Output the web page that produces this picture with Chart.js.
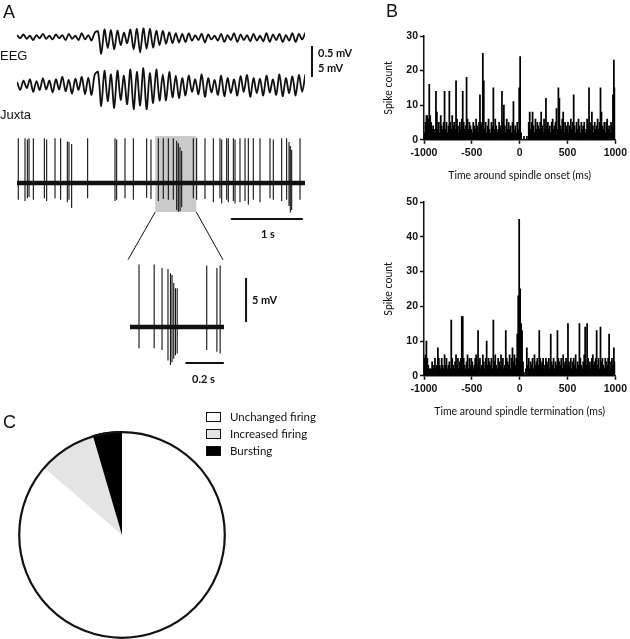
<!DOCTYPE html>
<html>
<head>
<meta charset="utf-8">
<script src="https://cdn.jsdelivr.net/npm/chart.js@4.4.1/dist/chart.umd.min.js"></script>
<style>
  html, body { margin: 0; padding: 0; background: #fff; }
  body { width: 630px; height: 639px; position: relative; overflow: hidden; font-family: 'Liberation Sans', Arial, sans-serif; color: #111; }
  canvas { position: absolute; }
  .lbl { position: absolute; white-space: nowrap; line-height: 1; }
  .panel { font-size: 18px; }
  .trace { font-size: 13px; }
  .bar-lbl { font-family: Lato, 'Open Sans', sans-serif; font-weight: 700; font-size: 11px; }
  #legend { position: absolute; left: 206px; top: 408px; font-family: Lato, 'Open Sans', sans-serif; font-size: 11.5px; }
  #legend div { display: flex; align-items: center; height: 17px; }
  #legend .box { width: 13px; height: 8px; border: 1.4px solid #111; margin-right: 9px; }
</style>
</head>
<body>
<canvas id="traces" width="330" height="265" style="left:0;top:0"></canvas>
<canvas id="inset" width="170" height="135" style="left:120px;top:255px"></canvas>
<canvas id="onset" width="300" height="190" style="left:330px;top:0"></canvas>
<canvas id="term" width="300" height="240" style="left:330px;top:190px"></canvas>
<canvas id="pie" width="240" height="249" style="left:0;top:390px"></canvas>

<div class="lbl panel" style="left:3px;top:3px">A</div>
<div class="lbl panel" style="left:386px;top:2px">B</div>
<div class="lbl panel" style="left:3px;top:413px">C</div>
<div class="lbl trace" style="left:0;top:49px">EEG</div>
<div class="lbl trace" style="left:0;top:108px">Juxta</div>
<div class="lbl bar-lbl" style="left:318px;top:47px">0.5 mV</div>
<div class="lbl bar-lbl" style="left:318px;top:62px">5 mV</div>
<div class="lbl bar-lbl" style="left:261px;top:228px">1 s</div>
<div class="lbl bar-lbl" style="left:252px;top:294px">5 mV</div>
<div class="lbl bar-lbl" style="left:192px;top:373px">0.2 s</div>
<div id="legend"></div>

<script>
// ---------------- data ----------------
// A: EEG (mV) and juxta EEG (mV), sampled every eegStep s
const traceDuration = 4.0;
const eegStep = 0.045;
const eegValues = [
  0.03,-0.02,0.04,-0.03,0.02,-0.05,0.03,-0.02,0.05,-0.03,0.02,-0.04,0.04,-0.02,0.03,-0.05,0.05,-0.03,0.02,-0.05,0.06,-0.04,0.03,-0.06,0.07,
  0.09,-0.27,0.12,-0.18,0.11,-0.2,0.1,-0.13,0.07,-0.1,0.12,-0.2,0.13,-0.25,0.14,-0.19,0.13,-0.17,0.1,-0.13,0.1,-0.11,0.08,-0.1,0.06,-0.09,
  0.05,-0.08,0.06,-0.06,0.03,-0.05,0.05,-0.09,0.04,-0.04,0.02,-0.06,0.05,-0.08,0.03,-0.05,0.06,-0.08,0.04,-0.05,0.03,-0.07,0.05,-0.06,0.02,-0.07,0.06,-0.08,0.04,-0.05,0.05,-0.08,0.03,-0.06,0.06,-0.08,0.05,-0.04,0.07
];
const juxtaEegValues = [
  0.5,-0.8,0.7,-0.5,0.9,-1.1,0.6,-0.8,1.1,-0.7,0.7,-1.2,0.9,-0.7,1.3,-1.0,0.8,-1.4,1.0,-0.8,1.3,-1.5,1.2,-1.6,1.7,
  2.1,-3.4,2.3,-2.6,1.7,-3.7,2.3,-2.4,1.5,-3.1,2.5,-3.9,2.1,-3.3,2.7,-3.9,1.9,-2.9,2.5,-2.5,1.7,-2.5,2.1,-2.0,1.5,-2.1,
  1.1,-1.7,1.5,-1.1,0.9,-1.5,1.7,-1.9,1.1,-1.2,0.8,-1.6,1.5,-1.8,1.1,-1.3,0.9,-1.7,1.4,-1.1,1.6,-1.9,1.1,-1.3,1.0,-1.7,1.5,-1.2,0.9,-1.6,1.7,-1.8,1.1,-1.3,1.4,-1.7,1.6,-1.1,1.7
];

// A: juxtacellular spikes (s, mV)
const spikeTimes = [0.018,0.111,0.144,0.167,0.227,0.380,0.412,0.528,0.606,0.699,0.722,0.759,0.981,1.361,1.384,1.500,1.616,1.801,1.861,1.963,
  2.032,2.102,2.171,2.218,2.241,2.264,2.287,2.449,2.495,2.611,2.727,2.819,2.843,2.912,2.935,3.005,3.028,3.097,3.167,3.213,
  3.282,3.375,3.514,3.560,3.676,3.745,3.778,3.796,3.815,3.931];
const spikeTops = [7,7,6.8,7,7,7,6.8,7,7,6.5,6.4,6.1,7,7,6.8,7,7,7,6.8,7,
  7,7,7,6.6,6.2,5.6,5.0,7,7,7,7,7,6.8,7,7,7,6.8,7,7,7,
  7,7,7,6.8,7,7,6.4,5.8,5.2,7];
const spikeBottoms = [-2.6,-2.8,-2.4,-2.2,-2.6,-2.4,-2.8,-2.4,-2.6,-3.0,-2.6,-3.9,-2.4,-2.8,-2.6,-2.4,-2.6,-2.3,-2.5,-2.8,
  -2.5,-2.6,-2.6,-4.2,-4.5,-4.4,-3.8,-2.4,-2.6,-2.5,-3.0,-2.4,-3.2,-2.6,-3.0,-2.8,-3.2,-3.0,-2.8,-3.4,
  -2.6,-3.0,-2.4,-2.6,-2.8,-2.6,-3.6,-4.6,-4.2,-2.6];
const shadeWindow = [1.92, 2.49];   // s
const shadeRange = [-4.53, 7.34];   // mV

// A inset: expanded spikes (s, mV)
const insetDuration = 0.49;
const insetSpikeTimes = [0.047,0.126,0.167,0.198,0.211,0.219,0.228,0.237,0.246,0.400,0.453,0.470];
const insetSpikeTops = [7.1,7.1,6.7,6.6,6.1,5.9,5.0,4.4,4.4,7.0,6.7,7.0];
const insetSpikeBottoms = [-2.4,-2.4,-2.6,-3.8,-4.3,-4.0,-3.6,-3.2,-3.0,-2.6,-2.8,-3.0];

// B: peri-event histograms, 10 ms bins from -1000 to 1000 ms
const binStart = -1000;
const binWidth = 10;
const timeTicks = [-1000, -500, 0, 500, 1000];
const onsetCounts = [
  2,5,7,7,6,16,7,5,3,4,
  3,2,14,8,3,5,2,7,4,3,
  5,14,3,5,2,4,14,5,3,7,
  4,5,3,17,6,4,2,5,3,6,
  14,5,3,4,18,6,3,5,4,3,
  2,5,4,3,6,4,2,5,13,5,
  4,25,17,3,5,2,4,6,3,2,
  5,4,15,3,6,4,2,3,5,4,
  3,14,5,10,4,2,6,3,5,3,
  4,2,5,11,3,4,2,5,3,15,
  24,2,0,0,1,0,0,1,0,5,
  8,3,5,8,4,2,6,3,5,4,
  3,5,8,4,2,6,3,12,4,5,
  3,4,2,5,6,3,4,5,9,3,
  15,12,4,3,6,8,2,5,4,3,
  5,2,4,6,3,5,13,4,2,5,
  3,6,4,2,5,3,4,5,2,3,
  6,4,15,5,3,8,4,2,5,3,
  4,6,3,5,15,8,4,3,5,2,
  5,6,3,4,2,5,4,13,23,15
];
const terminationCounts = [
  5,6,10,5,3,2,2,2,4,2,
  3,5,2,3,8,5,3,2,5,3,
  2,6,3,5,2,3,4,2,16,5,
  3,2,4,6,3,5,2,4,5,17,
  17,5,3,2,4,6,2,5,3,5,
  4,2,3,5,6,3,13,4,5,2,
  3,6,4,2,5,10,3,5,4,3,
  5,2,16,4,6,3,2,5,4,3,
  6,4,5,2,3,13,5,4,3,6,
  2,5,8,4,6,3,5,12,23,45,
  25,15,13,4,1,0,2,8,3,5,
  2,4,3,5,2,6,3,4,5,3,
  13,5,3,4,5,2,3,5,4,3,
  5,2,12,4,3,5,2,4,3,13,
  5,4,3,5,2,6,3,4,5,3,
  15,4,3,5,2,4,5,3,6,2,
  4,3,15,5,3,2,4,6,14,3,
  15,5,3,4,2,5,6,3,4,5,
  13,3,5,2,14,4,5,3,2,5,
  4,3,5,12,2,4,5,3,8,4
];

// C: response types (cells)
const pieLabels = ['Unchanged firing', 'Increased firing', 'Bursting'];
const pieCounts = [19, 2, 1];
const pieColors = ['#ffffff', '#e4e4e4', '#000000'];

// ---------------- helpers ----------------
const sansFont = "'Liberation Sans', Arial, sans-serif";
const calFont = "Lato, 'Open Sans', sans-serif";

function series(values, step) { return values.map((v, i) => ({ x: i * step, y: v })); }
function spikeSegments(times, tops, bottoms) {
  return times.flatMap((t, i) => [{ x: t, y: bottoms[i] }, { x: t, y: tops[i] }, { x: t, y: null }]);
}
function lineDs(data, axis, width, color) {
  return { data, yAxisID: axis, borderColor: color || '#111', borderWidth: width, pointRadius: 0, tension: 0, spanGaps: false };
}
function hline(ctx, x0, x1, y, w) { ctx.lineWidth = w; ctx.beginPath(); ctx.moveTo(x0, y); ctx.lineTo(x1, y); ctx.stroke(); }
function vline(ctx, x, y0, y1, w) { ctx.lineWidth = w; ctx.beginPath(); ctx.moveTo(x, y0); ctx.lineTo(x, y1); ctx.stroke(); }

const baseOpts = { responsive: false, animation: false, plugins: { legend: { display: false }, tooltip: { enabled: false } } };

// ---------------- A: traces ----------------
const traceMarks = {
  id: 'traceMarks',
  beforeDatasetsDraw(chart) {
    const { ctx, scales: { x, yS } } = chart;
    const l = x.getPixelForValue(shadeWindow[0]), r = x.getPixelForValue(shadeWindow[1]);
    const t = yS.getPixelForValue(shadeRange[1]), b = yS.getPixelForValue(shadeRange[0]);
    ctx.save(); ctx.fillStyle = '#cacaca'; ctx.fillRect(l, t, r - l, b - t); ctx.restore();
  },
  afterDraw(chart) {
    const { ctx, scales: { x, yE, yS } } = chart;
    ctx.save(); ctx.strokeStyle = '#111';
    // lines down to the inset
    const by = yS.getPixelForValue(shadeRange[0]), iy = yS.getPixelForValue(-12.0);
    ctx.lineWidth = 1;
    ctx.beginPath();
    ctx.moveTo(x.getPixelForValue(shadeWindow[0]), by); ctx.lineTo(x.getPixelForValue(1.542), iy);
    ctx.moveTo(x.getPixelForValue(shadeWindow[1]), by); ctx.lineTo(x.getPixelForValue(2.861), iy);
    ctx.stroke();
    // 1 s bar, 0.5 mV bar
    hline(ctx, x.getPixelForValue(2.97), x.getPixelForValue(3.97), yS.getPixelForValue(-5.63), 2);
    vline(ctx, x.getPixelForValue(4.097), yE.getPixelForValue(-0.145), yE.getPixelForValue(-0.645), 2);
    ctx.restore();
  }
};

new Chart(document.getElementById('traces'), {
  type: 'line',
  data: { datasets: [
    { ...lineDs(series(eegValues, eegStep), 'yE', 1.8), tension: 0.3 },
    { ...lineDs(series(juxtaEegValues, eegStep), 'yJ', 1.8), tension: 0.3 },
    lineDs(spikeSegments(spikeTimes, spikeTops, spikeBottoms), 'yS', 1.1, '#111'),
    lineDs([{ x: 0, y: 0 }, { x: traceDuration, y: 0 }], 'yS', 4.5)
  ] },
  options: {
    ...baseOpts,
    layout: { padding: { left: 17, right: 25, top: 20, bottom: 50 } },
    scales: {
      x: { type: 'linear', min: 0, max: traceDuration, display: false },
      yE: { min: -2.871, max: 0.274, display: false },
      yJ: { min: -20.97, max: 10.48, display: false },
      yS: { min: -5.0, max: 25.47, display: false }
    }
  },
  plugins: [traceMarks]
});

// ---------------- A: inset ----------------
const insetMarks = {
  id: 'insetMarks',
  afterDraw(chart) {
    const { ctx, scales: { x, yS } } = chart;
    ctx.save(); ctx.strokeStyle = '#111';
    hline(ctx, x.getPixelForValue(0.289), x.getPixelForValue(0.489), yS.getPixelForValue(-4.09), 2);
    vline(ctx, x.getPixelForValue(0.605), yS.getPixelForValue(0.57), yS.getPixelForValue(5.57), 2);
    ctx.restore();
  }
};

new Chart(document.getElementById('inset'), {
  type: 'line',
  data: { datasets: [
    lineDs(spikeSegments(insetSpikeTimes, insetSpikeTops, insetSpikeBottoms), 'yS', 1.1, '#111'),
    lineDs([{ x: 0, y: 0 }, { x: insetDuration, y: 0 }], 'yS', 4.5)
  ] },
  options: {
    ...baseOpts,
    layout: { padding: { left: 10, right: 66, top: 0, bottom: 15 } },
    scales: {
      x: { type: 'linear', min: 0, max: insetDuration, display: false },
      yS: { min: -5.45, max: 8.18, display: false }
    }
  },
  plugins: [insetMarks]
});

// ---------------- B: histograms ----------------
function histogram(id, counts, yMax, xTitle, pad) {
  const axisLine = { color: '#111', width: 1.5 };
  const grid = { drawOnChartArea: false, drawTicks: true, tickLength: 4, tickColor: '#111', tickWidth: 1.5 };
  const tickFont = { family: sansFont, size: 10.5, weight: 'bold' };
  const titleFont = { family: calFont, size: 10.5 };
  new Chart(document.getElementById(id), {
    type: 'bar',
    data: { datasets: [{
      data: counts.map((c, i) => ({ x: binStart + (i + 0.5) * binWidth, y: c })),
      backgroundColor: '#000', borderWidth: 0, barPercentage: 1, categoryPercentage: 1, inflateAmount: 0.4
    }] },
    options: {
      ...baseOpts,
      layout: { padding: pad },
      scales: {
        x: {
          type: 'linear', min: binStart, max: -binStart, offset: false,
          afterBuildTicks: s => { s.ticks = timeTicks.map(v => ({ value: v })); },
          ticks: { color: '#111', font: tickFont, padding: 3, maxRotation: 0, callback: v => String(v) },
          grid: { ...grid, offset: false }, border: axisLine,
          title: { display: true, text: xTitle, color: '#111', font: titleFont, padding: { top: 7, bottom: 0 } }
        },
        y: {
          min: 0, max: yMax,
          afterFit: s => { s.width = 42; },
          ticks: { stepSize: 10, color: '#111', font: tickFont, padding: 2 },
          grid, border: axisLine,
          title: { display: true, text: 'Spike count', color: '#111', font: titleFont, padding: 0 }
        }
      }
    }
  });
}

histogram('onset', onsetCounts, 30, 'Time around spindle onset (ms)', { left: 52, right: 13, top: 36, bottom: 8 });
histogram('term', terminationCounts, 50, 'Time around spindle termination (ms)', { left: 52, right: 13, top: 12, bottom: 12 });

// ---------------- C: pie ----------------
const pieOutline = {
  id: 'pieOutline',
  afterDatasetsDraw(chart) {
    const arc = chart.getDatasetMeta(0).data[0];
    const ctx = chart.ctx;
    ctx.save(); ctx.strokeStyle = '#111'; ctx.lineWidth = 2.2;
    ctx.beginPath(); ctx.arc(arc.x, arc.y, arc.outerRadius - 1.2, 0, Math.PI * 2); ctx.stroke();
    ctx.restore();
  }
};

new Chart(document.getElementById('pie'), {
  type: 'pie',
  data: { labels: pieLabels, datasets: [{ data: pieCounts, backgroundColor: pieColors, borderWidth: 0, hoverOffset: 0 }] },
  options: { ...baseOpts, layout: { padding: { left: 18, right: 14, top: 41, bottom: 0 } } },
  plugins: [pieOutline]
});

document.getElementById('legend').innerHTML = pieLabels.map((l, i) =>
  `<div><span class="box" style="background:${pieColors[i]}"></span>${l}</div>`
).join('');
</script>
</body>
</html>
